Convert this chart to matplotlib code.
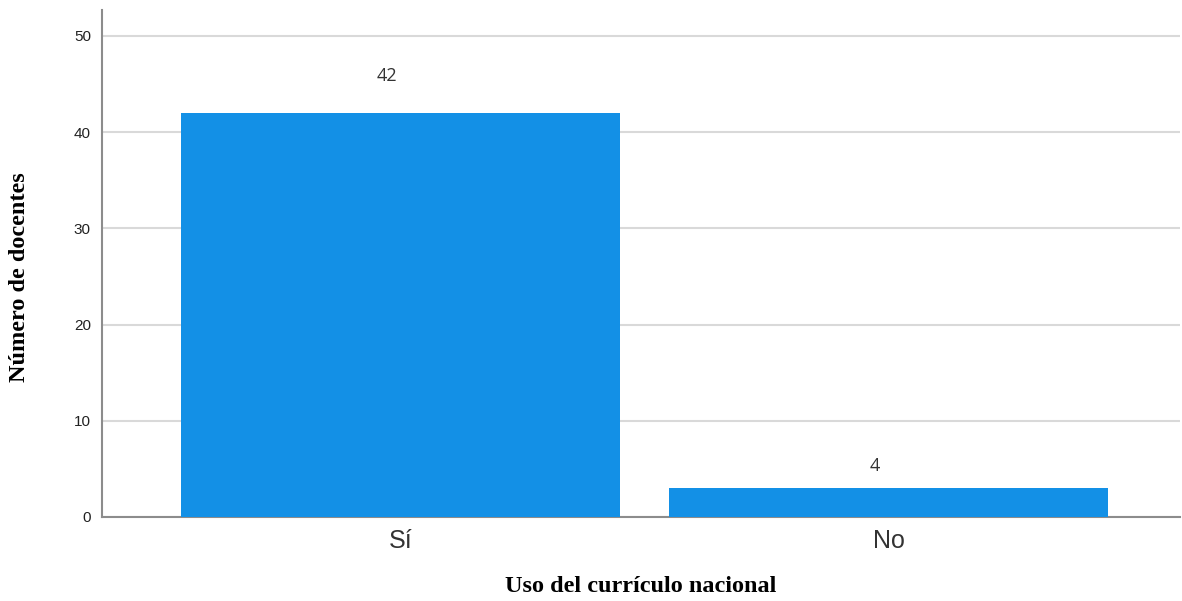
import matplotlib
matplotlib.use("Agg")
import matplotlib.pyplot as plt
import numpy as np

categories = ["Sí", "No"]
bar_heights = [42, 3]          # height of the bars as drawn in the reference
bar_labels = ["42", "4"]       # value labels printed above the bars
label_offsets_px = [37, 22]    # gap between bar top and label centre

BAR_COLOR = "#1390E6"

fig = plt.figure(figsize=(11.82, 6.01), dpi=100)
ax = fig.add_axes([0.0863, 0.1398, 0.9117, 0.8436])

x = np.arange(len(categories))
ax.bar(x, bar_heights, width=0.9, color=BAR_COLOR, zorder=3)

# labels sit a little left of the bar centre, as in the original
for xi, h, lab, off in zip(x, bar_heights, bar_labels, label_offsets_px):
    ax.annotate(lab, (xi, h), xytext=(-10, off * 0.72), textcoords="offset points",
                ha="center", va="center", fontsize=13, color="#333333",
                family="Open Sans")

ax.set_xlim(-0.611, 1.596)
ax.set_ylim(0, 52.7)
ax.set_yticks([0, 10, 20, 30, 40, 50])
ax.set_xticks(x, categories)
ax.tick_params(axis="y", length=0, pad=8, labelsize=11, labelcolor="#222222")
ax.tick_params(axis="x", length=0, pad=9, labelsize=18, labelcolor="#333333")
for lab in ax.get_xticklabels() + ax.get_yticklabels():
    lab.set_family("Liberation Sans")

ax.grid(axis="y", color="#d9d9d9", linewidth=1.5, zorder=0)
ax.spines[["top", "right"]].set_visible(False)
ax.spines["left"].set_color("#8c8c8c")
ax.spines["bottom"].set_color("#8c8c8c")
ax.spines["left"].set_linewidth(1.5)
ax.spines["bottom"].set_linewidth(1.5)

ax.set_xlabel("Uso del currículo nacional", family="Liberation Serif",
              fontweight="bold", fontsize=17.5)
ax.set_ylabel("Número de docentes", family="Liberation Serif",
              fontweight="bold", fontsize=17.5)
ax.xaxis.set_label_coords(0.5, -0.116)
ax.yaxis.set_label_coords(-0.067, 0.473)

fig.savefig("out.png", dpi=100)
